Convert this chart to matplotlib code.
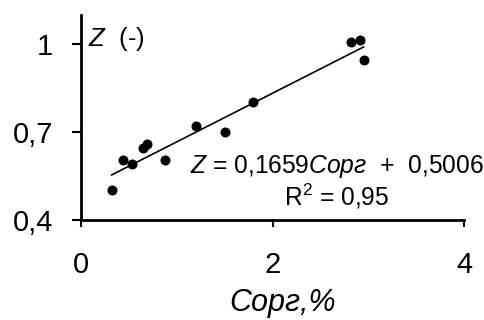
import matplotlib
matplotlib.use("Agg")
import matplotlib.pyplot as plt
import numpy as np

plt.rcParams['font.family'] = ['Liberation Sans', 'DejaVu Sans']
plt.rcParams['mathtext.fontset'] = 'custom'
plt.rcParams['mathtext.rm'] = 'Liberation Sans'
plt.rcParams['mathtext.it'] = 'Liberation Sans:italic'

c_org = [0.32, 0.44, 0.53, 0.65, 0.69, 0.88, 1.20, 1.50, 1.80, 2.82, 2.91, 2.95]
z_vals = [0.504, 0.606, 0.590, 0.647, 0.658, 0.605, 0.720, 0.700, 0.804, 1.006, 1.013, 0.945]
slope = 0.1659
intercept = 0.5006
x_ticks = [0, 2, 4]
x_tick_labels = ["0", "2", "4"]
y_ticks = [0.4, 0.7, 1.0]
y_tick_labels = ["0,4", "0,7", "1"]

fig = plt.figure(figsize=(4.85, 3.2), dpi=100)
ax = fig.add_axes([0.167, 0.3125, 0.79, 0.6415])
ax.scatter(c_org, z_vals, s=52, color='black', zorder=3, linewidths=0)
xl = np.array([min(c_org), max(c_org)])
ax.plot(xl, slope * xl + intercept, color='black', lw=1.2)

ax.set_xlim(0, 4)
ax.set_ylim(0.4, 1.1)
ax.set_xticks(x_ticks)
ax.set_xticklabels(x_tick_labels, fontsize=21)
ax.set_yticks(y_ticks)
ax.set_yticklabels(y_tick_labels, fontsize=21)
ax.tick_params(axis='x', direction='out', length=5, width=1.5, pad=17.5)
ax.tick_params(axis='y', direction='out', length=6.5, width=1.5, pad=13.5)
for s in ['top', 'right']:
    ax.spines[s].set_visible(False)
for s in ['left', 'bottom']:
    ax.spines[s].set_linewidth(2)

ax.set_xlabel("Сорг,%", fontsize=22, style='italic', labelpad=6)
ax.xaxis.label.set_x(0.525)
ax.text(0.07, 0.995, r"$\it{Z}$  (-)", fontsize=18.5, transform=ax.transData,
        ha='left', va='baseline')
ax.text(0.668, 0.073, "$\\it{Z}$ = 0,1659$\\it{Сорг}$  +  0,5006\nR$^2$ = 0,95",
        fontsize=17.7, transform=ax.transAxes, ha='center', va='baseline',
        multialignment='center', linespacing=1.05, clip_on=False)

fig.savefig("out.png", dpi=100)
